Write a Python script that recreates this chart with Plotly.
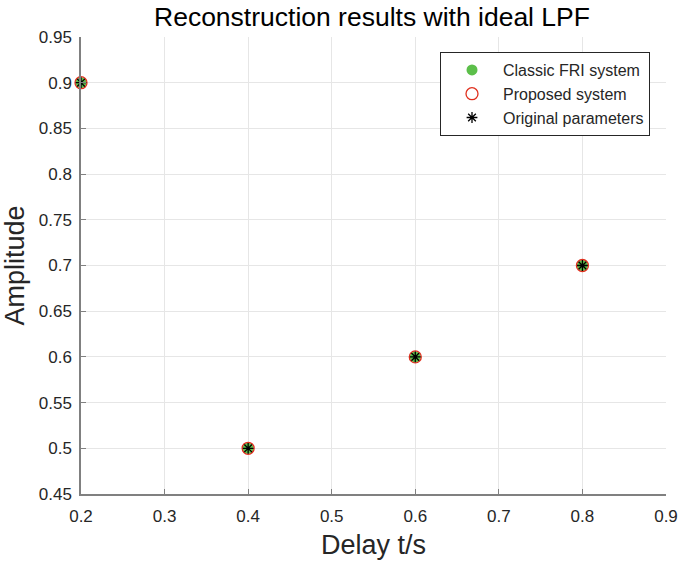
import plotly.graph_objects as go

delays = [0.2, 0.4, 0.6, 0.8]
amp_classic = [0.9, 0.5, 0.6, 0.7]
amp_proposed = [0.9, 0.5, 0.6, 0.7]
amp_original = [0.9, 0.5, 0.6, 0.7]

x_ticks = [0.2, 0.3, 0.4, 0.5, 0.6, 0.7, 0.8, 0.9]
y_ticks = [0.45, 0.5, 0.55, 0.6, 0.65, 0.7, 0.75, 0.8, 0.85, 0.9, 0.95]

FONT = "Liberation Sans, Arial, sans-serif"

fig = go.Figure()
fig.add_trace(go.Scatter(x=delays, y=amp_classic, mode="markers", name="Classic FRI system",
                         marker=dict(symbol="circle", size=11, color="#5cbf4a", line=dict(width=0)),
                         cliponaxis=False))
fig.add_trace(go.Scatter(x=delays, y=amp_proposed, mode="markers", name="Proposed system",
                         marker=dict(symbol="circle-open", size=12, color="#e0301e", line=dict(width=1.3)),
                         cliponaxis=False))
fig.add_trace(go.Scatter(x=delays, y=amp_original, mode="markers", name="Original parameters",
                         marker=dict(symbol="asterisk-open", size=9, color="black", line=dict(width=1.3, color="black")),
                         cliponaxis=False))

axis_common = dict(showgrid=True, gridcolor="#e6e6e6", gridwidth=1, zeroline=False,
                   showline=True, linecolor="#808080", linewidth=1.5,
                   ticks="inside", ticklen=5, tickcolor="#808080", automargin=False,
                   tickfont=dict(family=FONT, size=17, color="#262626"), mirror=False)

fig.update_xaxes(range=[0.2, 0.9], tickvals=x_ticks, ticktext=[f"{v:g}" for v in x_ticks],
                 ticklabelstandoff=6,
                 title=dict(text="Delay t/s", font=dict(family=FONT, size=27, color="#262626"), standoff=10),
                 **axis_common)
fig.update_yaxes(range=[0.45, 0.95], tickvals=y_ticks, ticktext=[f"{v:g}" for v in y_ticks],
                 ticklabelstandoff=4,
                 title=dict(text="Amplitude", font=dict(family=FONT, size=27, color="#262626"), standoff=8),
                 **axis_common)

fig.update_layout(
    width=679, height=562,
    margin=dict(l=81, r=13, t=37, b=68, autoexpand=False),
    plot_bgcolor="white", paper_bgcolor="white",
    title=dict(text="Reconstruction results with ideal LPF", x=372 / 679, xanchor="center",
               y=1 - 17 / 562, yanchor="middle",
               font=dict(family=FONT, size=26.5, color="black")),
    showlegend=True,
    legend=dict(x=(440 - 81) / 585, y=(494 - 52) / 457, xanchor="left", yanchor="top", bgcolor="white",
                bordercolor="#262626", borderwidth=1, font=dict(family=FONT, size=16, color="#262626"),
                itemwidth=52, tracegroupgap=0),
)

fig.write_html("out.html")
